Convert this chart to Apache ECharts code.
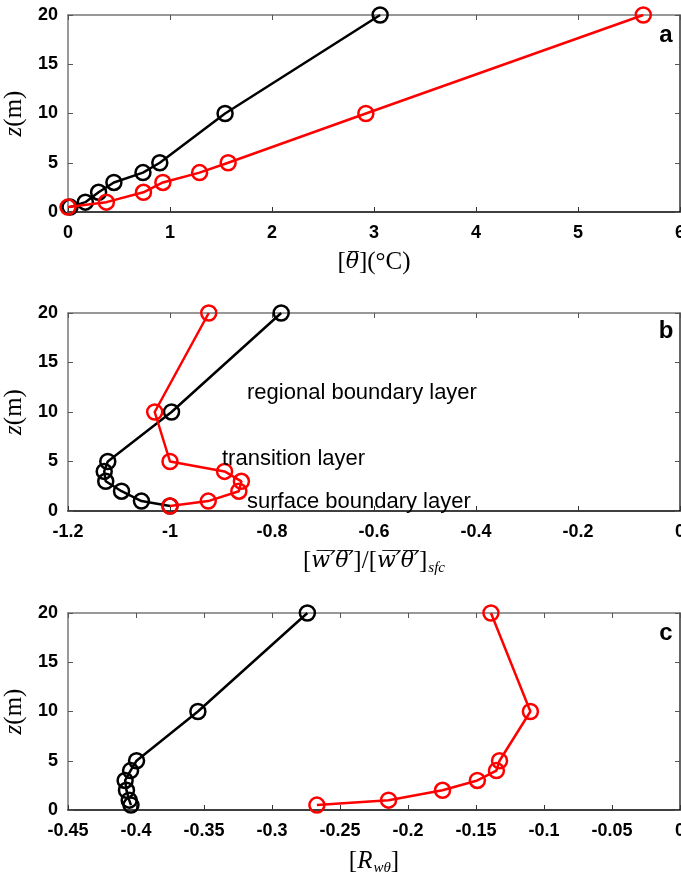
<!DOCTYPE html>
<html>
<head>
<meta charset="utf-8">
<script src="https://cdn.jsdelivr.net/npm/echarts@6/dist/echarts.min.js"></script>
<style>html,body{margin:0;padding:0;background:#fff}#c{width:681px;height:875px}</style>
</head>
<body>
<div id="c"></div>
<script>
// heights (m)
const zLevels = [0.5, 1, 2, 3, 4, 5, 10, 20];
// panel a: [theta] (deg C)
const thetaBlack = [0.02, 0.17, 0.30, 0.45, 0.735, 0.90, 1.54, 3.06];
const thetaRed = [0.0, 0.376, 0.74, 0.93, 1.29, 1.57, 2.92, 5.64];
// panel b: normalized heat flux
const fluxBlack = [-1.0, -1.056, -1.095, -1.126, -1.129, -1.122, -0.997, -0.782];
const fluxRed = [-1.0, -0.925, -0.865, -0.86, -0.893, -1.0, -1.03, -0.924];
// panel c: correlation coefficient
const corrBlack = [-0.4037, -0.405, -0.407, -0.408, -0.404, -0.3996, -0.3545, -0.274];
const corrRed = [-0.267, -0.2143, -0.1746, -0.149, -0.135, -0.1327, -0.110, -0.139];
// axis ranges / ticks
const zTicks = {min: 0, max: 20, interval: 5};
const xTicksA = {min: 0, max: 6, interval: 1};
const xTicksB = {min: -1.2, max: 0, interval: 0.2};
const xTicksC = {min: -0.45, max: 0, interval: 0.05};
const panelLetters = ['a', 'b', 'c'];
const layerLabels = ['regional boundary layer', 'transition layer', 'surface boundary layer'];

const chart = echarts.init(document.getElementById('c'), null, {renderer: 'canvas'});
const pair = (xs) => xs.map((x, i) => [x, zLevels[i]]);
const fmt = (v) => String(parseFloat(Number(v).toFixed(3)));

const grids = [
  {left: 68, width: 612, top: 15, height: 197},
  {left: 68, width: 612, top: 313, height: 198},
  {left: 68, width: 612, top: 613, height: 197}
];
const xr = [xTicksA, xTicksB, xTicksC];
const serifName = {fontFamily: 'Liberation Serif', fontSize: 25, color: '#000'};
const OL = '\u0305';
const xNames = [
  {name: '[{o|θ' + OL + '}](°C)', gap: 38},
  {name: '[{o|w' + OL + '′' + OL + 'θ' + OL + '′' + OL + '}]/[{o|w' + OL + '′' + OL + 'θ' + OL + '′' + OL + '}]{s|sfc}', gap: 36},
  {name: '[{i|R}{s|wθ}]', gap: 37}
];
const rich = {
  i: {fontFamily: 'Liberation Serif', fontStyle: 'italic', fontSize: 25, color: '#000'},
  o: {fontFamily: 'DejaVu Serif', fontStyle: 'italic', fontSize: 22, color: '#000'},
  s: {fontFamily: 'Liberation Serif', fontStyle: 'italic', fontSize: 15, color: '#000', padding: [14, 0, 0, 1]}
};
const tickLabel = {fontFamily: 'Liberation Sans', fontWeight: 'bold', fontSize: 18, color: '#000'};

const xAxes = [], yAxes = [], series = [];
grids.forEach((g, k) => {
  xAxes.push({
    type: 'value', gridIndex: k, position: 'bottom', min: xr[k].min, max: xr[k].max, interval: xr[k].interval,
    axisLine: {show: true, onZero: false, lineStyle: {color: '#000', width: 1.5}},
    axisTick: {show: true, inside: true, length: 5, lineStyle: {color: '#333', width: 1}},
    axisLabel: Object.assign({margin: 12, formatter: fmt, showMinLabel: true, showMaxLabel: true}, tickLabel),
    splitLine: {show: false},
    name: xNames[k].name, nameLocation: 'middle', nameGap: xNames[k].gap,
    nameTextStyle: Object.assign({rich: rich}, serifName)
  });
  xAxes.push({
    type: 'value', gridIndex: k, position: 'top', min: xr[k].min, max: xr[k].max, interval: xr[k].interval,
    axisLine: {show: true, onZero: false, lineStyle: {color: '#777', width: 1.5}},
    axisTick: {show: true, inside: true, length: 5, lineStyle: {color: '#555', width: 1}},
    axisLabel: {show: false}, splitLine: {show: false}
  });
  yAxes.push({
    type: 'value', gridIndex: k, position: 'left', min: zTicks.min, max: zTicks.max, interval: zTicks.interval,
    axisLine: {show: true, onZero: false, lineStyle: {color: '#777', width: 1.5}},
    axisTick: {show: true, inside: true, length: 5, lineStyle: {color: '#555', width: 1}},
    axisLabel: Object.assign({margin: 10}, tickLabel),
    splitLine: {show: false},
    name: '{i|z}(m)', nameLocation: 'middle', nameGap: 36, nameRotate: 90,
    nameTextStyle: Object.assign({rich: rich}, serifName)
  });
  yAxes.push({
    type: 'value', gridIndex: k, position: 'right', min: zTicks.min, max: zTicks.max, interval: zTicks.interval,
    axisLine: {show: true, onZero: false, lineStyle: {color: '#333', width: 1.5}},
    axisTick: {show: true, inside: true, length: 5, lineStyle: {color: '#555', width: 1}},
    axisLabel: {show: false}, splitLine: {show: false}
  });
});

const dataSets = [[thetaBlack, thetaRed], [fluxBlack, fluxRed], [corrBlack, corrRed]];
const colors = ['#000000', '#ff0000'];
dataSets.forEach((pairSet, k) => {
  pairSet.forEach((xs, j) => {
    series.push({
      type: 'line', xAxisIndex: 2 * k, yAxisIndex: 2 * k, data: pair(xs),
      symbol: 'circle', symbolSize: 15, showSymbol: true, animation: false,
      lineStyle: {color: colors[j], width: 2.5},
      itemStyle: {color: 'rgba(255,255,255,0)', borderColor: colors[j], borderWidth: 2.5},
      z: 2 + j
    });
  });
});

const graphics = [];
const letterPos = [[666, 35], [666, 331], [666, 633]];
panelLetters.forEach((t, k) => {
  graphics.push({type: 'text', x: letterPos[k][0], y: letterPos[k][1], z: 100,
    style: {text: t, font: 'bold 24px "Liberation Sans"', fill: '#000', align: 'center', verticalAlign: 'middle', textAlign: 'center', textVerticalAlign: 'middle'}});
});
const labelPos = [[247, 393], [222, 459], [247, 502]];
layerLabels.forEach((t, k) => {
  graphics.push({type: 'text', x: labelPos[k][0], y: labelPos[k][1], z: 100,
    style: {text: t, font: '22px "Liberation Sans"', fill: '#000', align: 'left', verticalAlign: 'middle', textAlign: 'left', textVerticalAlign: 'middle'}});
});

chart.setOption({
  animation: false,
  backgroundColor: '#fff',
  grid: grids.map(g => Object.assign({containLabel: false, outerBoundsMode: 'none'}, g)),
  xAxis: xAxes,
  yAxis: yAxes,
  series: series,
  graphic: graphics
});
</script>
</body>
</html>
